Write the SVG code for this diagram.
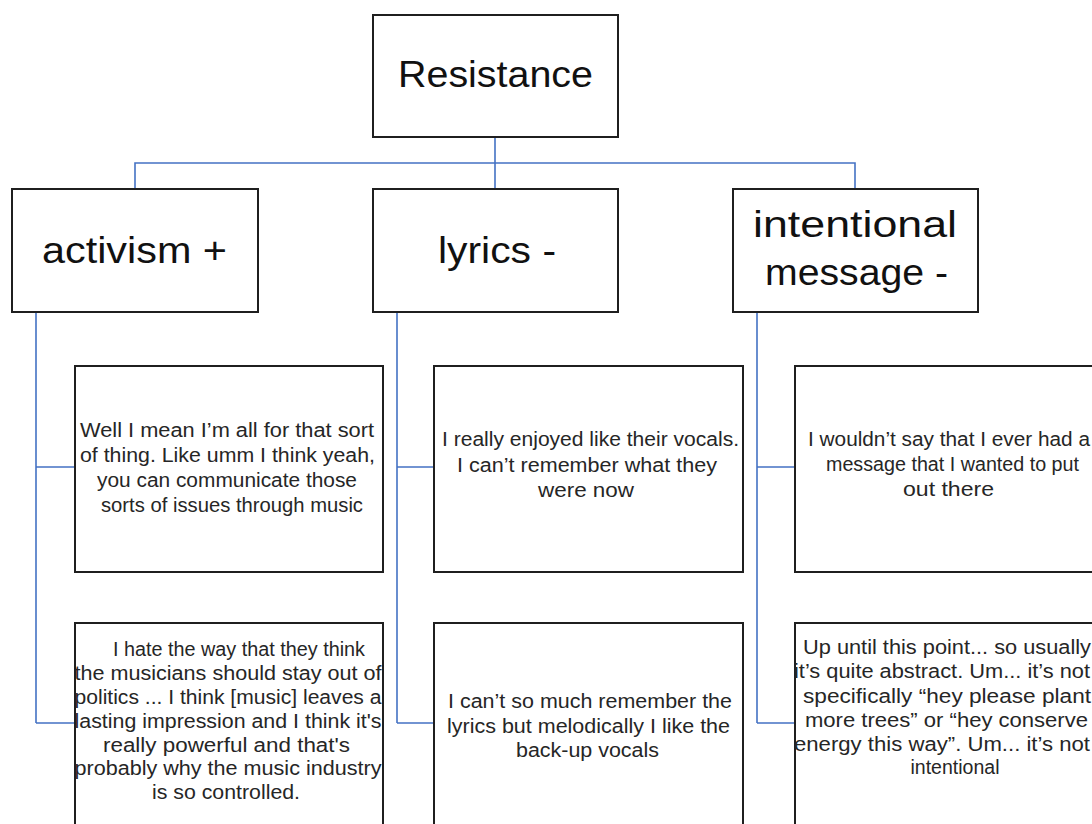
<svg xmlns="http://www.w3.org/2000/svg" width="1092" height="824" viewBox="0 0 1092 824">
<style>
.box{fill:#fff;stroke:#1f1f1f;stroke-width:2}
.con{fill:none;stroke:#4472C4;stroke-width:1.6}
.h{font-family:"Liberation Sans",Arial,sans-serif;font-size:37px;fill:#111;text-anchor:middle}
.t{font-family:"Liberation Sans",Arial,sans-serif;font-size:19.5px;fill:#262626;text-anchor:middle}
</style>
<rect width="1092" height="824" fill="#fff"/>
<g id="connectors">
<path class="con" d="M495,137V163M135,189V163H855V189M495,163V189"/>
<path class="con" d="M36,312V723M36,467H75M36,723H75"/>
<path class="con" d="M397,312V723M397,467H434M397,723H434"/>
<path class="con" d="M757,312V723M757,467H795M757,723H795"/>
</g>
<g id="root"><rect class="box" x="373" y="15" width="245" height="122"/>
<text class="h" x="495.5" y="87" textLength="195" lengthAdjust="spacingAndGlyphs">Resistance</text></g>
<g id="activism"><rect class="box" x="12" y="189" width="246" height="123"/>
<text class="h" x="134.5" y="263" textLength="185" lengthAdjust="spacingAndGlyphs">activism +</text></g>
<g id="lyrics"><rect class="box" x="373" y="189" width="245" height="123"/>
<text class="h" x="497" y="263" textLength="118" lengthAdjust="spacingAndGlyphs">lyrics -</text></g>
<g id="intentional"><rect class="box" x="733" y="189" width="245" height="123"/>
<text class="h" x="855" y="237" textLength="204" lengthAdjust="spacingAndGlyphs">intentional</text>
<text class="h" x="856.5" y="285" textLength="183" lengthAdjust="spacingAndGlyphs">message -</text></g>
<g id="quote-activism-1"><rect class="box" x="75" y="366" width="308" height="206"/>
<text class="t" x="227" y="437" textLength="294" lengthAdjust="spacingAndGlyphs">Well I mean I’m all for that sort</text>
<text class="t" x="227.5" y="462" textLength="295" lengthAdjust="spacingAndGlyphs">of thing. Like umm I think yeah,</text>
<text class="t" x="227" y="487" textLength="260" lengthAdjust="spacingAndGlyphs">you can communicate those</text>
<text class="t" x="232" y="512" textLength="262" lengthAdjust="spacingAndGlyphs">sorts of issues through music</text></g>
<g id="quote-activism-2"><rect class="box" x="75" y="623" width="308" height="215"/>
<text class="t" x="239" y="656" textLength="252" lengthAdjust="spacingAndGlyphs">I hate the way that they think</text>
<text class="t" x="228" y="680" textLength="307" lengthAdjust="spacingAndGlyphs">the musicians should stay out of</text>
<text class="t" x="228" y="704" textLength="307" lengthAdjust="spacingAndGlyphs">politics ... I think [music] leaves a</text>
<text class="t" x="228" y="728" textLength="307" lengthAdjust="spacingAndGlyphs">lasting impression and I think it's</text>
<text class="t" x="226.5" y="752" textLength="247" lengthAdjust="spacingAndGlyphs">really powerful and that's</text>
<text class="t" x="228" y="775" textLength="307" lengthAdjust="spacingAndGlyphs">probably why the music industry</text>
<text class="t" x="226" y="799" textLength="148" lengthAdjust="spacingAndGlyphs">is so controlled.</text></g>
<g id="quote-lyrics-1"><rect class="box" x="434" y="366" width="309" height="206"/>
<text class="t" x="590.5" y="446" textLength="297" lengthAdjust="spacingAndGlyphs">I really enjoyed like their vocals.</text>
<text class="t" x="587" y="472" textLength="260" lengthAdjust="spacingAndGlyphs">I can’t remember what they</text>
<text class="t" x="586" y="497" textLength="96" lengthAdjust="spacingAndGlyphs">were now</text></g>
<g id="quote-lyrics-2"><rect class="box" x="434" y="623" width="309" height="215"/>
<text class="t" x="590" y="708" textLength="284" lengthAdjust="spacingAndGlyphs">I can’t so much remember the</text>
<text class="t" x="588.5" y="733" textLength="283" lengthAdjust="spacingAndGlyphs">lyrics but melodically I like the</text>
<text class="t" x="587.5" y="757" textLength="143" lengthAdjust="spacingAndGlyphs">back-up vocals</text></g>
<g id="quote-intentional-1"><rect class="box" x="795" y="366" width="320" height="206"/>
<text class="t" x="949" y="446" textLength="282" lengthAdjust="spacingAndGlyphs">I wouldn’t say that I ever had a</text>
<text class="t" x="952.5" y="471" textLength="253" lengthAdjust="spacingAndGlyphs">message that I wanted to put</text>
<text class="t" x="948.5" y="496" textLength="91" lengthAdjust="spacingAndGlyphs">out there</text></g>
<g id="quote-intentional-2"><rect class="box" x="795" y="623" width="320" height="215"/>
<text class="t" x="947" y="654" textLength="288" lengthAdjust="spacingAndGlyphs">Up until this point... so usually</text>
<text class="t" x="942" y="678" textLength="296" lengthAdjust="spacingAndGlyphs">it’s quite abstract. Um... it’s not</text>
<text class="t" x="947" y="703" textLength="288" lengthAdjust="spacingAndGlyphs">specifically “hey please plant</text>
<text class="t" x="946.5" y="727" textLength="283" lengthAdjust="spacingAndGlyphs">more trees” or “hey conserve</text>
<text class="t" x="942" y="751" textLength="296" lengthAdjust="spacingAndGlyphs">energy this way”. Um... it’s not</text>
<text class="t" x="955" y="774" textLength="89" lengthAdjust="spacingAndGlyphs">intentional</text></g>
</svg>
